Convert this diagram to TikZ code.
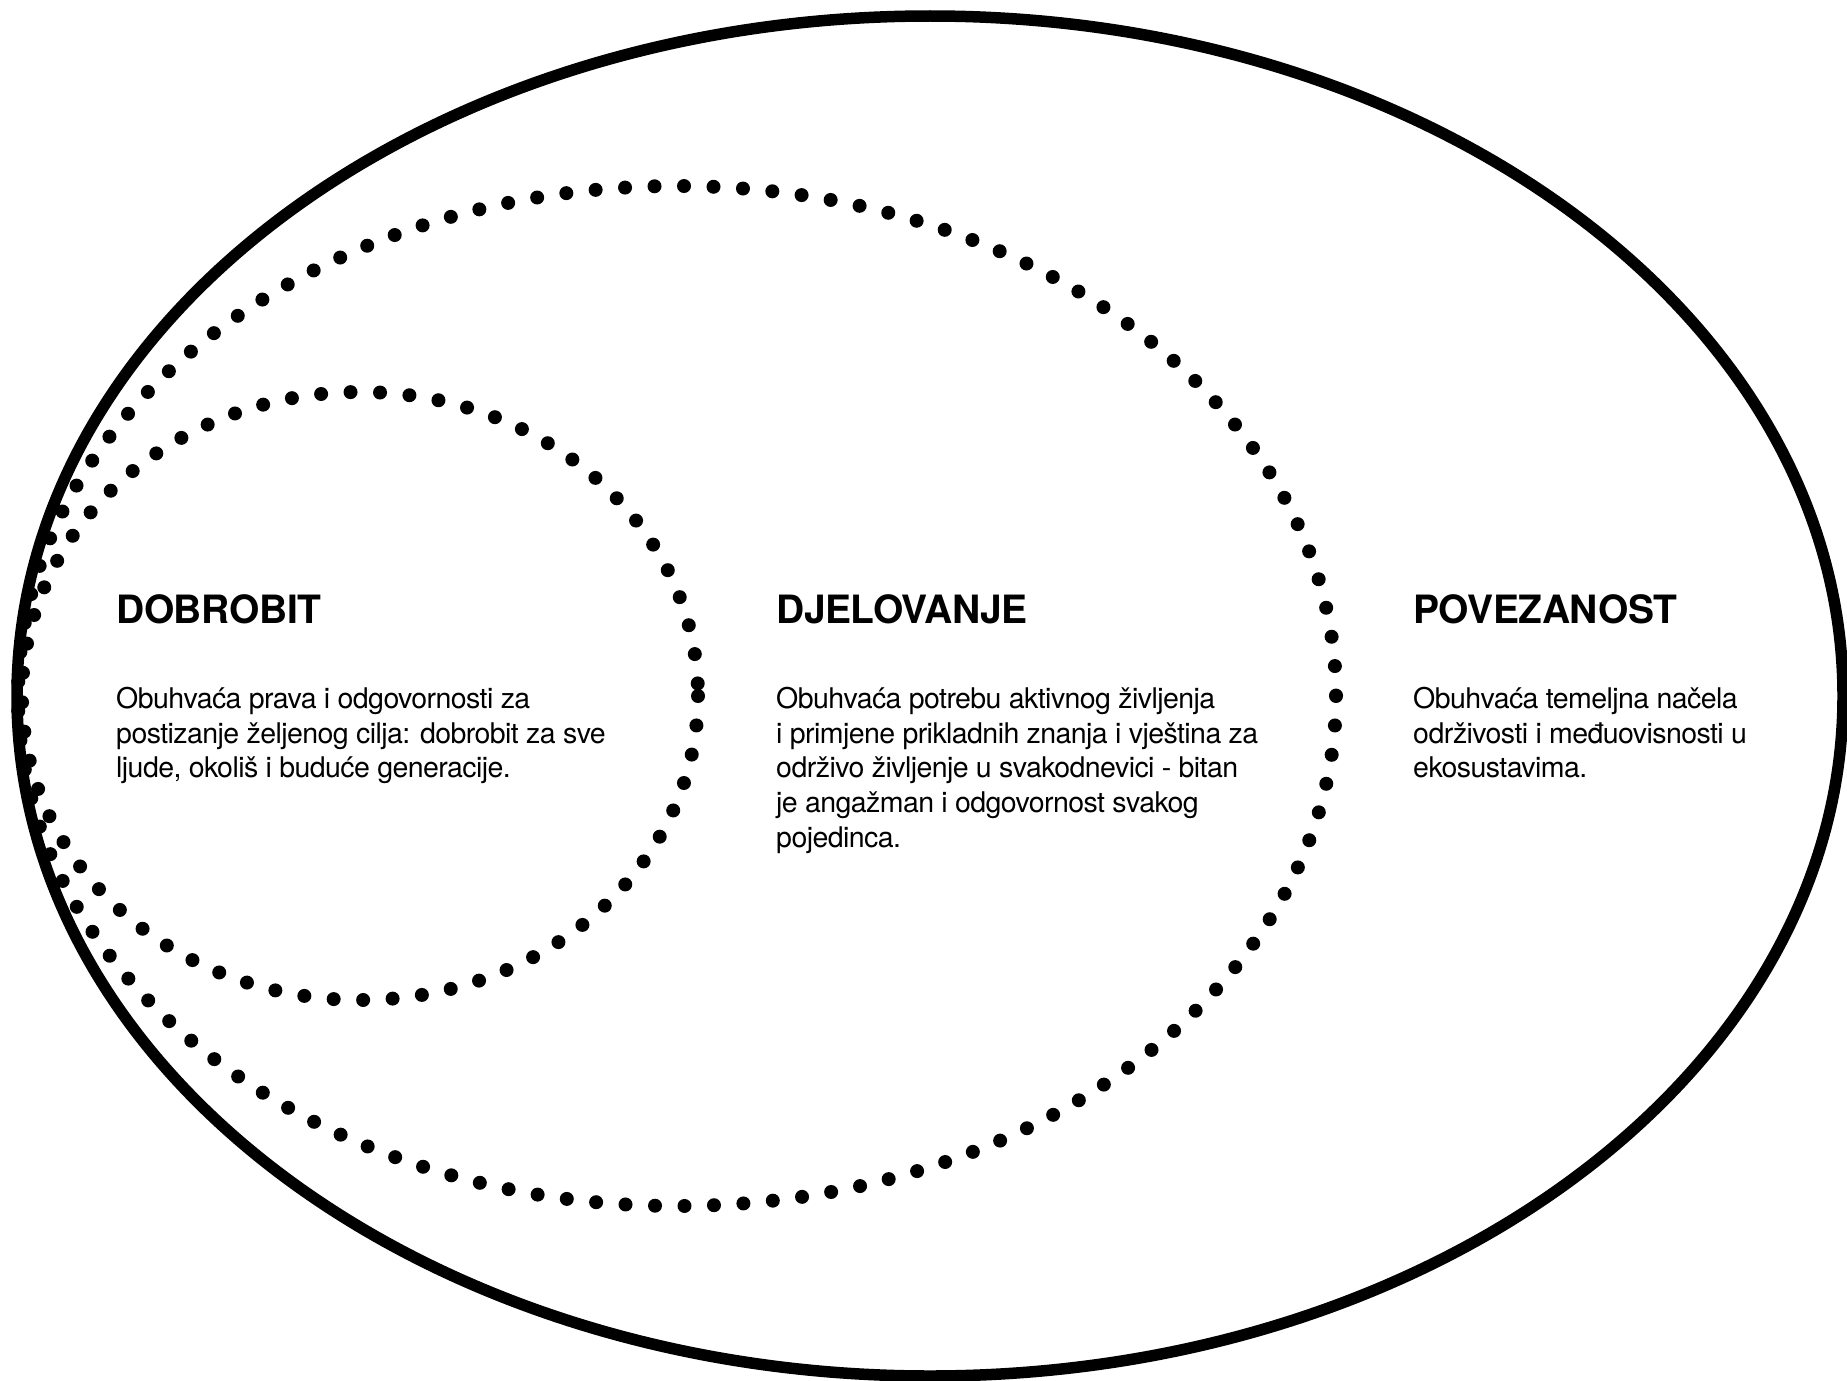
\documentclass[tikz,border=0pt]{standalone}
\usepackage{fontspec}
\setmainfont{TeX Gyre Heros}
\newfontfamily\headfont[LetterSpace=-1]{TeX Gyre Heros}
\newfontfamily\bodyfont[LetterSpace=-2]{TeX Gyre Heros}
\newcommand\firststrut{\rule{0pt}{25pt}}
\begin{document}
\begin{tikzpicture}[x=1pt,y=-1pt,
  outerring/.style={line width=11.5pt},
  dotring/.style={line width=14pt, line cap=round, dash pattern=on 0pt off 29.5pt},
  heading/.style={anchor=base west, inner sep=0pt, font=\headfont\bfseries\fontsize{39}{39}\selectfont},
  body/.style={anchor=north west, inner sep=0pt, align=left, font=\bodyfont\fontsize{28.5}{34.8}\selectfont}]
\fill[white] (0,0) rectangle (1847,1381);
\useasboundingbox (0,0) rectangle (1847,1381);
% rings
\draw[dotring] (360,696) ellipse [x radius=338, y radius=304];
\draw[dotring] (677,696) ellipse [x radius=659, y radius=510];
\draw[outerring] (930,696) ellipse [x radius=913, y radius=680];
% texts
\node[heading] (h1) at (116,623) {DOBROBIT};
\node[body] (b1) at (116,683) {\firststrut Obuhvaća prava i odgovornosti za\\postizanje željenog cilja: dobrobit za sve\\ljude, okoliš i buduće generacije.};
\node[heading] (h2) at (776,623) {DJELOVANJE};
\node[body] (b2) at (776,683) {\firststrut Obuhvaća potrebu aktivnog življenja\\i primjene prikladnih znanja i vještina za\\održivo življenje u svakodnevici - bitan\\je angažman i odgovornost svakog\\pojedinca.};
\node[heading] (h3) at (1413,623) {POVEZANOST};
\node[body] (b3) at (1413,683) {\firststrut Obuhvaća temeljna načela\\održivosti i međuovisnosti u\\ekosustavima.};
\end{tikzpicture}
\end{document}
